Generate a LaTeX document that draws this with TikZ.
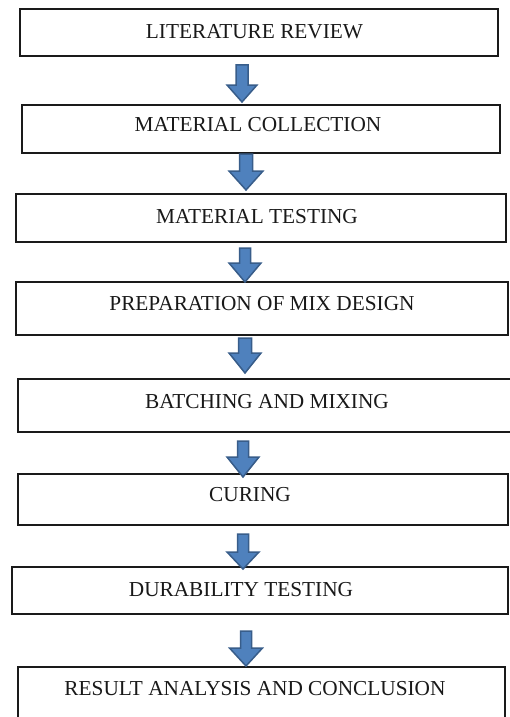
\documentclass[tikz,border=0pt]{standalone}
\usepackage{fontspec}
\setmainfont{Liberation Serif}
\usetikzlibrary{fit}
\definecolor{arrowfill}{HTML}{4F81BD}
\definecolor{arrowline}{HTML}{385D8A}
\definecolor{boxline}{HTML}{1A1A1A}
\tikzset{
  stepbox/.style={draw=boxline, line width=1.3pt, rectangle, inner sep=0pt},
  steptext/.style={anchor=base, inner sep=0pt, text=black!90, font=\fontsize{21.3}{25}\selectfont},
  blockarrow/.style={fill=arrowfill, draw=arrowline, line width=1.5pt, line join=miter}
}
% centre x, top, head start, tip, shaft half width, head half width
\newcommand\flowarrow[6]{%
  \draw[blockarrow] (#1-#5,#2) -- (#1+#5,#2) -- (#1+#5,#3) -- (#1+#6,#3) -- (#1,#4) -- (#1-#6,#3) -- (#1-#5,#3) -- cycle;}
\begin{document}
\begin{tikzpicture}[x=1pt,y=-1pt]
\useasboundingbox (0,0) rectangle (510,717);
\clip (0,0) rectangle (510,717);
\fill[white] (0,0) rectangle (510,717);
% boxes
\node[stepbox, fit={(20,9) (498,56)}] (b1) {};
\node[stepbox, fit={(22,105) (500,153)}] (b2) {};
\node[stepbox, fit={(16,194) (506,242)}] (b3) {};
\node[stepbox, fit={(16,282) (508,335)}] (b4) {};
\node[stepbox, fit={(18,379) (514,432)}] (b5) {};
\node[stepbox, fit={(18,474) (508,525)}] (b6) {};
\node[stepbox, fit={(12,567) (508,614)}] (b7) {};
\node[stepbox, fit={(18,667) (505,730)}] (b8) {};
% texts
\node[steptext] (t1) at (254.5,38.3) {LITERATURE REVIEW};
\node[steptext] (t2) at (258,131.7) {MATERIAL COLLECTION};
\node[steptext] (t3) at (257,223.3) {MATERIAL TESTING};
\node[steptext] (t4) at (262,310) {PREPARATION OF MIX DESIGN};
\node[steptext] (t5) at (267,408.3) {BATCHING AND MIXING};
\node[steptext] (t6) at (250,501.7) {CURING};
\node[steptext] (t7) at (241,596) {DURABILITY TESTING};
\node[steptext] (t8) at (255,695.7) {RESULT ANALYSIS AND CONCLUSION};
% arrows
\flowarrow{242}{65}{85}{102}{6}{15}
\flowarrow{246}{154}{171}{190}{6.5}{17}
\flowarrow{245}{248}{263}{282}{5.5}{16}
\flowarrow{245}{338}{353}{373}{6.5}{16}
\flowarrow{243}{441}{457}{477}{5.5}{16}
\flowarrow{243}{534}{552}{569}{5.5}{16}
\flowarrow{246}{631}{648}{666}{5.5}{16.5}
\end{tikzpicture}
\end{document}
